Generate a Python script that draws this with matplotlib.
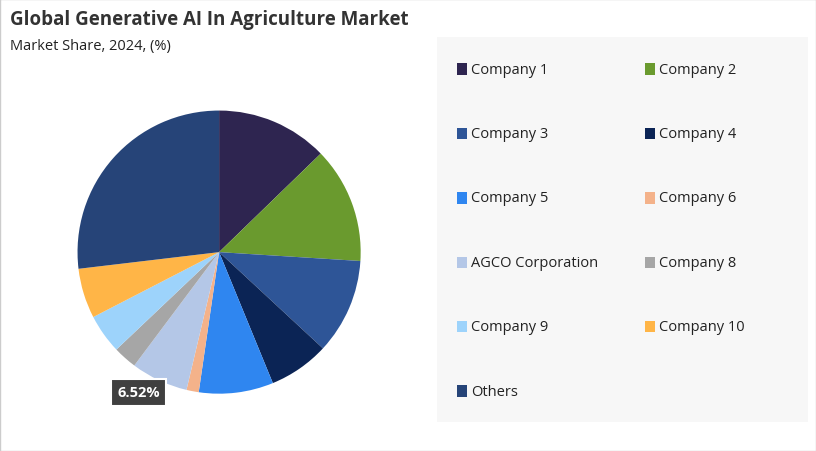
import matplotlib.pyplot as plt
from matplotlib.patches import Rectangle

plt.rcParams['font.family'] = ['Open Sans', 'DejaVu Sans']

labels = ['Company 1', 'Company 2', 'Company 3', 'Company 4', 'Company 5', 'Company 6',
          'AGCO Corporation', 'Company 8', 'Company 9', 'Company 10', 'Others']
shares = [12.75, 13.25, 10.9, 6.9, 8.5, 1.4, 6.52, 2.7, 4.5, 5.7, 26.88]
colors = ['#2e2550', '#6a9a2e', '#2e5597', '#0b2455', '#2f86f0', '#f4b28a',
          '#b4c7e7', '#a6a6a6', '#9dd3fb', '#ffb547', '#264478']

fig = plt.figure(figsize=(8.16, 4.52), dpi=100)
fig.patch.set_facecolor('white')
fig.patches.append(Rectangle((0, 0), 1, 1, transform=fig.transFigure, fill=False,
                             edgecolor='#cccccc', lw=1))

fig.text(0.012, 0.955, 'Global Generative AI In Agriculture Market', fontsize=13.5,
         fontweight='bold', color='#333333', va='center')
fig.text(0.012, 0.898, 'Market Share, 2024, (%)', fontsize=10.5, color='#222222', va='center')

ax = fig.add_axes([0.0515, 0.0485, 0.434, 0.783])
wedges, _ = ax.pie(shares, colors=colors, startangle=90, counterclock=False,
                   wedgeprops=dict(linewidth=0))
ax.set_aspect('equal')
ax.text(-0.57, -0.99, f'{shares[6]:.2f}%', fontsize=10.5, fontweight='bold', color='white',
        ha='center', va='center',
        bbox=dict(boxstyle='square,pad=0.45', fc='#404040', ec='white', lw=1.5))

# legend panel
fig.patches.append(Rectangle((0.536, 0.064), 0.454, 0.853, transform=fig.transFigure,
                             facecolor='#f7f7f7', edgecolor='none'))
for i, (lab, c) in enumerate(zip(labels, colors)):
    col, row = i % 2, i // 2
    x = 0.56 + col * 0.23
    y = 0.845 - row * 0.1425
    fig.patches.append(Rectangle((x, y - 0.0125), 0.0125, 0.025, transform=fig.transFigure,
                                 facecolor=c, edgecolor='none'))
    fig.text(x + 0.017, y, lab, fontsize=10.5, color='#222222', va='center')

fig.savefig('out.png', dpi=100)
